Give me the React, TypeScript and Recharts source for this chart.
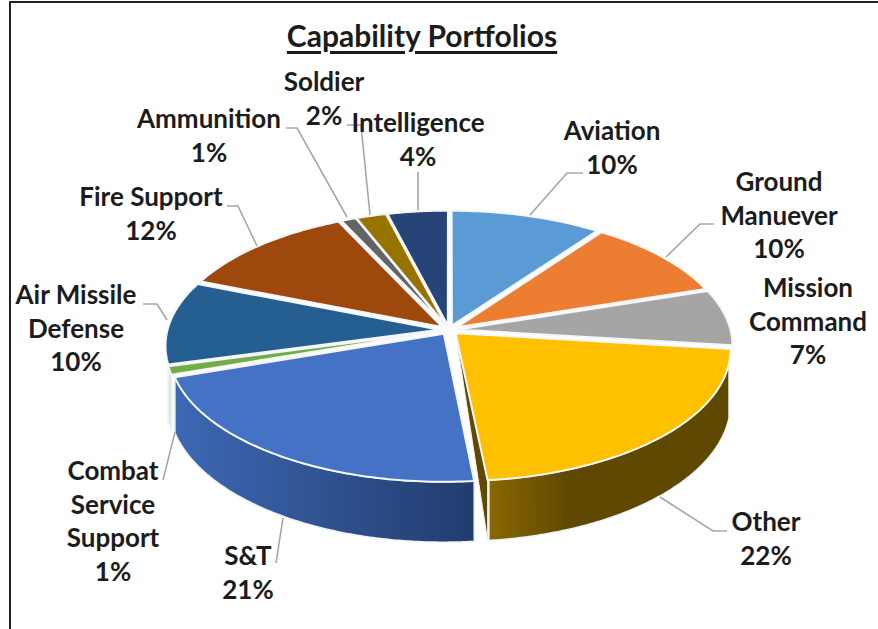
import { PieChart, Pie } from 'recharts'

const categories = ['Aviation', 'Ground\nManuever', 'Mission\nCommand', 'Other', 'S&T', 'Combat\nService\nSupport', 'Air Missile\nDefense', 'Fire Support', 'Ammunition', 'Soldier', 'Intelligence']
const values = [10, 10, 6.9, 21.5, 21.4, 1, 10.2, 12, 1, 2, 4]
const colors = ['#5b9bd5', '#ed7d31', '#a5a5a5', '#ffc000', '#4472c4', '#70ad47', '#255e91', '#9e480e', '#636363', '#997300', '#264478']

// label centre x and first line centre y, then leader line points
const labelSpots = [
  [612, 131], [779, 182], [808, 288], [766, 522], [248, 556], [113, 471], [76, 295], [151, 197], [209, 119], [324, 82], [418, 123],
]
const leaders = [
  '583,173 567,173 530,215',
  '714,224 700,224 666,257',
  '',
  '660,497 713,531 727,531',
  '283,518 276,563',
  '175,432 163,480',
  '143,304 157,304 167,320',
  '227,206 238,206 257,246',
  '286,128 297,128 347,217',
  '347,125 361,125 370,215',
  '418,172 418,210',
]

const data = categories.map((name, i) => ({ name, value: values[i], fill: colors[i] }))
const total = values.reduce((a, b) => a + b, 0)

const CX = 449
const CY = 330
const RADIUS = 272
const TILT = 0.476
const PERSP = 0.1185
const EXPLODE = 0.035
const DEPTH = 53

const rad = (d: number) => (d * Math.PI) / 180

function project(u: number, v: number, r: number) {
  const s = 1 / (1 + PERSP * v)
  return { x: CX + r * u * s, y: CY - r * TILT * v * s, s }
}

function Slice(props: any) {
  const { startAngle, endAngle, outerRadius, fill, index } = props
  const t0 = 90 - startAngle
  const t1 = 90 - endAngle
  const mid = rad((t0 + t1) / 2)
  const ex = EXPLODE * Math.sin(mid)
  const ey = EXPLODE * Math.cos(mid)
  const rim = (t: number) => project(Math.sin(rad(t)) + ex, Math.cos(rad(t)) + ey, outerRadius)
  const apex = project(ex, ey, outerRadius)

  const top: string[] = []
  for (let t = t0; t < t1; t += 1) {
    const p = rim(t)
    top.push(`${p.x},${p.y}`)
  }
  const last = rim(t1)
  top.push(`${last.x},${last.y}`)

  // outer wall, only on the part of the rim that faces the viewer
  const a = Math.max(t0, 103)
  const b = Math.min(t1, 255)
  const wallUp: string[] = []
  const wallDown: string[] = []
  if (b > a) {
    for (let t = a; t <= b; t += 0.5) {
      const p = rim(t)
      wallUp.push(`${p.x},${p.y}`)
      wallDown.unshift(`${p.x},${p.y + DEPTH * p.s}`)
    }
  }
  const gradId = `wall-${index}`
  const isPale = index === 5
  const showCut = t1 > 120 && t1 < 180

  return (
    <g>
      {b > a && !isPale && (
        <defs>
          <linearGradient id={gradId} gradientUnits="userSpaceOnUse" x1={index === 3 ? 487 : 177} x2={index === 3 ? 570 : 472} y1="0" y2="0">
            <stop offset="0" stopColor={index === 3 ? '#8a6800' : '#3d68b4'} />
            <stop offset="1" stopColor={index === 3 ? '#5f4800' : '#223c6e'} />
          </linearGradient>
        </defs>
      )}
      {showCut && <polygon points={`${apex.x},${apex.y} ${last.x},${last.y} ${last.x},${last.y + DEPTH * last.s}`} fill="#5f4800" stroke="#f4f0e4" strokeWidth={1} />}
      {b > a && (
        <polygon
          points={[...wallUp, ...wallDown].join(' ')}
          fill={isPale ? '#d6e8c9' : `url(#${gradId})`}
          stroke="#eef1f5"
          strokeWidth={1.5}
        />
      )}
      <polygon points={`${apex.x},${apex.y} ${top.join(' ')}`} fill={fill} stroke="#f4f6f8" strokeWidth={2} strokeLinejoin="round" />
    </g>
  )
}

function SliceLabel(props: any) {
  const { index } = props
  const lines = categories[index].split('\n')
  lines.push(`${Math.round((values[index] / total) * 100)}%`)
  const [x, y] = labelSpots[index]
  return (
    <g>
      {leaders[index] && <polyline points={leaders[index]} fill="none" stroke="#a6a6a6" strokeWidth={1.6} />}
      <text x={x} textAnchor="middle" fontFamily="Lato" fontWeight={700} fontSize={26} fill="#1c1c1c">
        {lines.map((line, i) => (
          <tspan key={i} x={x} y={y + i * 33.5 + 9}>
            {line}
          </tspan>
        ))}
      </text>
    </g>
  )
}

export default function App() {
  return (
    <div style={{ position: 'absolute', left: 0, top: 0, width: 878, height: 629, background: '#fff', overflow: 'hidden' }}>
      <div style={{ position: 'absolute', left: 8.5, top: 0.5, width: 880, height: 640, borderLeft: '2px solid #222', borderTop: '2px solid #222' }} />
      <div
        style={{
          position: 'absolute', left: 222, width: 400, top: 18, textAlign: 'center', fontFamily: 'Lato', fontWeight: 700,
          fontSize: 30, lineHeight: '34px', color: '#1c1c1c', textDecoration: 'underline', textUnderlineOffset: 4,
        }}
      >
        Capability Portfolios
      </div>
      <PieChart width={878} height={629} margin={{ top: 0, right: 0, bottom: 0, left: 0 }} style={{ position: 'absolute', left: 0, top: 0 }}>
        <Pie
          data={data}
          dataKey="value"
          nameKey="name"
          cx={CX}
          cy={CY}
          outerRadius={RADIUS}
          startAngle={90}
          endAngle={-270}
          isAnimationActive={false}
          shape={Slice}
          activeShape={Slice}
          inactiveShape={Slice}
          label={SliceLabel}
          labelLine={false}
        />
      </PieChart>
    </div>
  )
}
